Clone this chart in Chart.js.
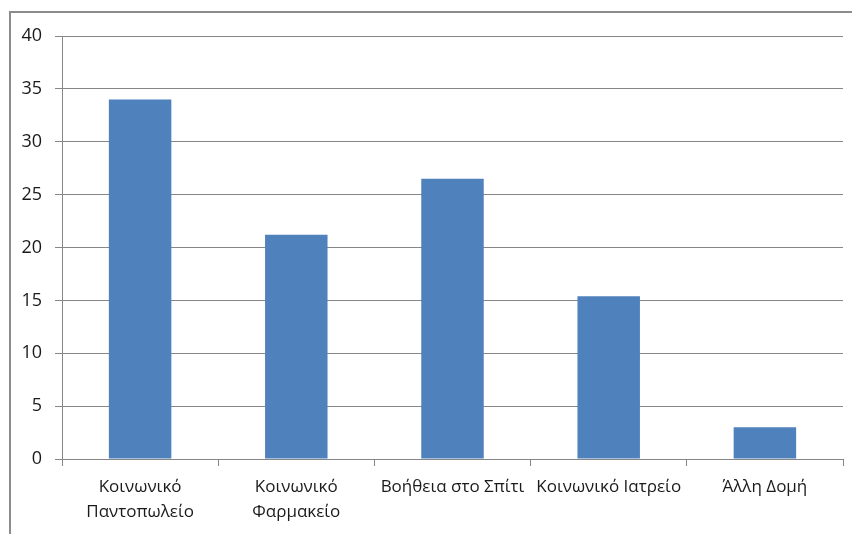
<!DOCTYPE html>
<html>
<head>
<meta charset="utf-8">
<script src="https://cdn.jsdelivr.net/npm/chart.js@4"></script>
<style>
  html, body { margin: 0; padding: 0; background: #fff; }
  #wrap { width: 852px; height: 534px; }
</style>
</head>
<body>
<div id="wrap"><canvas id="chart" width="852" height="534"></canvas></div>
<script>
const categories = [
  ['Κοινωνικό', 'Παντοπωλείο'],
  ['Κοινωνικό', 'Φαρμακείο'],
  'Βοήθεια στο Σπίτι',
  'Κοινωνικό Ιατρείο',
  'Άλλη Δομή'
];
const values = [34, 21.2, 26.5, 15.4, 3.0];
const yTicks = [0, 5, 10, 15, 20, 25, 30, 35, 40];

const grey = '#868686';

// thin frame round the chart, like the spreadsheet export
const frame = {
  id: 'frame',
  beforeDraw(chart) {
    const ctx = chart.ctx;
    ctx.save();
    ctx.strokeStyle = '#8c8c8c';
    ctx.lineWidth = 2;
    ctx.beginPath();
    ctx.moveTo(10, 540);
    ctx.lineTo(10, 12);
    ctx.lineTo(852, 12);
    ctx.stroke();
    ctx.restore();
  }
};

new Chart(document.getElementById('chart'), {
  type: 'bar',
  data: {
    labels: categories,
    datasets: [{
      data: values,
      backgroundColor: '#4F81BD',
      borderWidth: 0,
      categoryPercentage: 0.8,
      barPercentage: 0.5
    }]
  },
  options: {
    responsive: false,
    animation: false,
    layout: { padding: { left: 0, right: 9, top: 36, bottom: 0 } },
    plugins: {
      legend: { display: false },
      tooltip: { enabled: false }
    },
    scales: {
      y: {
        min: 0,
        max: 40,
        afterFit(scale) { scale.width = 62; },
        afterBuildTicks(scale) { scale.ticks = yTicks.map(v => ({ value: v })); },
        ticks: {
          padding: 13,
          color: '#1a1a1a',
          font: { family: 'Open Sans', size: 18 }
        },
        grid: { color: grey, lineWidth: 1, tickLength: 7 },
        border: { color: grey, width: 1 }
      },
      x: {
        afterFit(scale) { scale.height = 75; },
        ticks: {
          padding: 9,
          color: '#1a1a1a',
          maxRotation: 0,
          autoSkip: false,
          font: { family: 'Open Sans', size: 17, lineHeight: 1.47 }
        },
        grid: { color: grey, drawOnChartArea: false, tickLength: 7, offset: true },
        border: { color: grey, width: 1 }
      }
    }
  },
  plugins: [frame]
});
</script>
</body>
</html>
